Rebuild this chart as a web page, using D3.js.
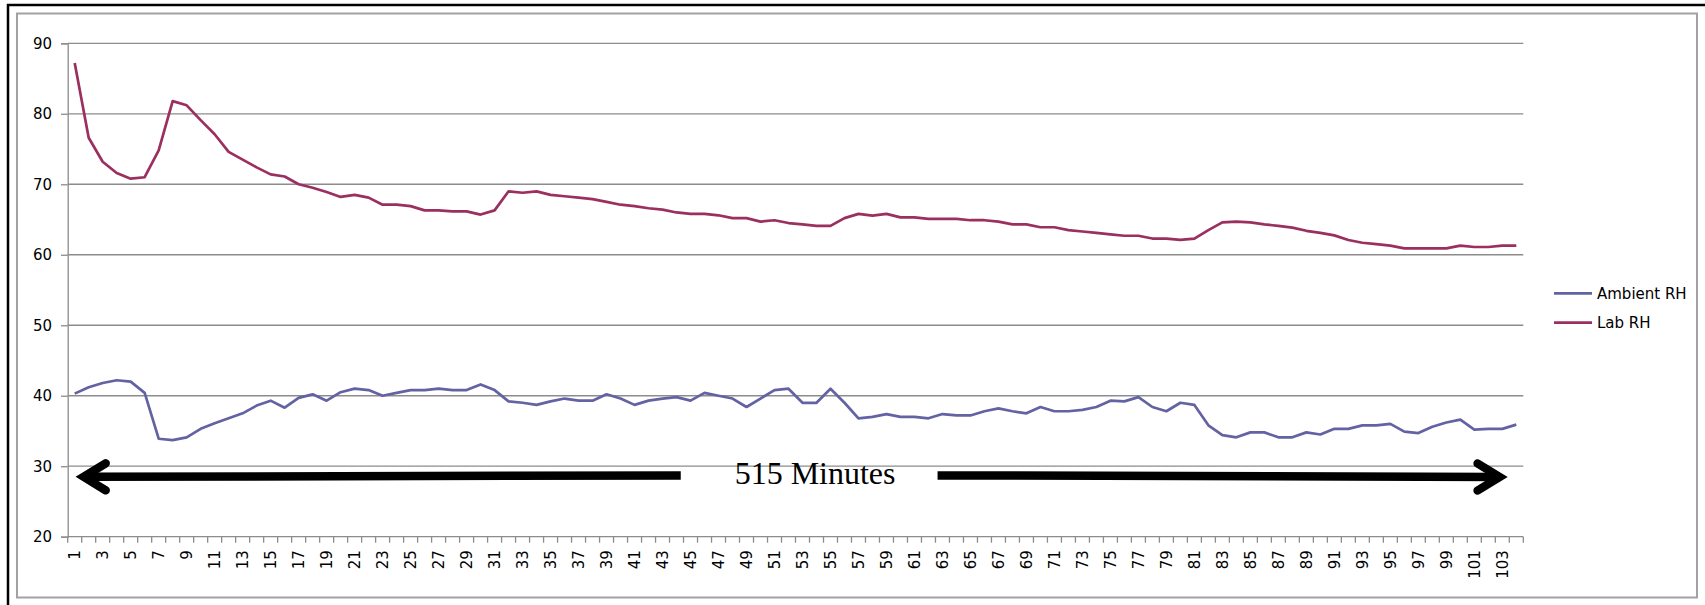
<!DOCTYPE html>
<html>
<head>
<meta charset="utf-8">
<script src="https://cdn.jsdelivr.net/npm/d3@7"></script>
<style>
  body { margin: 0; background: #fff; }
  text { font-family: "DejaVu Sans", sans-serif; }
</style>
</head>
<body>
<div id="chart"></div>
<script>
// readings, one per sample (104 samples over 515 minutes)
const samples = d3.range(1, 105).map(String)
const ambientRH = [
  40.3, 41.2, 41.8, 42.2, 42.0, 40.4, 33.9, 33.7, 34.1, 35.3,
  36.1, 36.8, 37.5, 38.6, 39.3, 38.3, 39.7, 40.2, 39.3, 40.5,
  41.0, 40.8, 40.0, 40.4, 40.8, 40.8, 41.0, 40.8, 40.8, 41.6,
  40.8, 39.2, 39.0, 38.7, 39.2, 39.6, 39.3, 39.3, 40.2, 39.6,
  38.7, 39.3, 39.6, 39.8, 39.3, 40.4, 40.0, 39.6, 38.4, 39.6,
  40.8, 41.0, 39.0, 39.0, 41.0, 39.0, 36.8, 37.0, 37.4, 37.0,
  37.0, 36.8, 37.4, 37.2, 37.2, 37.8, 38.2, 37.8, 37.5, 38.4,
  37.8, 37.8, 38.0, 38.4, 39.3, 39.2, 39.8, 38.4, 37.8, 39.0,
  38.7, 35.8, 34.4, 34.1, 34.8, 34.8, 34.1, 34.1, 34.8, 34.5,
  35.3, 35.3, 35.8, 35.8, 36.0, 34.9, 34.7, 35.6, 36.2, 36.6,
  35.2, 35.3, 35.3, 35.9
]
const labRH = [
  87.2, 76.6, 73.2, 71.6, 70.8, 71.0, 74.8, 81.8, 81.2, 79.1,
  77.1, 74.6, 73.5, 72.4, 71.4, 71.1, 70.0, 69.5, 68.9, 68.2,
  68.5, 68.1, 67.1, 67.1, 66.9, 66.3, 66.3, 66.15, 66.15, 65.7,
  66.3, 69.0, 68.8, 69.0, 68.5, 68.3, 68.1, 67.9, 67.5, 67.1,
  66.9, 66.6, 66.4, 66.0, 65.8, 65.8, 65.6, 65.2, 65.2, 64.7,
  64.9, 64.5, 64.3, 64.1, 64.1, 65.2, 65.8, 65.55, 65.8, 65.3,
  65.3, 65.1, 65.1, 65.1, 64.9, 64.9, 64.7, 64.3, 64.3, 63.9,
  63.9, 63.5, 63.3, 63.1, 62.9, 62.7, 62.7, 62.3, 62.3, 62.1,
  62.3, 63.5, 64.6, 64.7, 64.6, 64.3, 64.1, 63.85, 63.4, 63.1,
  62.75, 62.1, 61.7, 61.5, 61.3, 60.9, 60.9, 60.9, 60.9, 61.3,
  61.1, 61.1, 61.3, 61.3
]
const yTicks = [20, 30, 40, 50, 60, 70, 80, 90]
const seriesNames = ["Ambient RH", "Lab RH"]
const colors = ["#6363a3", "#9b2f60"]
const note = "515 Minutes"

const W = 1705, H = 605
const margin = { top: 43.3, left: 67.7, right: W - 1523.3, bottom: H - 536.7 }
const plotW = W - margin.left - margin.right
const plotH = H - margin.top - margin.bottom

const svg = d3.select("#chart").append("svg").attr("width", W).attr("height", H)

// frames
svg.append("rect").attr("x", 8).attr("y", 5).attr("width", W).attr("height", H)
  .attr("fill", "none").attr("stroke", "#000").attr("stroke-width", 2.5)
svg.append("rect").attr("x", 17).attr("y", 13.5).attr("width", 1680).attr("height", 584)
  .attr("fill", "none").attr("stroke", "#a2a2a2").attr("stroke-width", 2)

const g = svg.append("g").attr("transform", `translate(${margin.left},${margin.top})`)

const x = d3.scaleBand().domain(samples).range([0, plotW])
const y = d3.scaleLinear().domain([20, 90]).range([plotH, 0])
const cx = d => x(d) + x.bandwidth() / 2
// continuous position in sample units, used for the arrow annotation
const xs = d3.scaleLinear().domain([0.5, samples.length + 0.5]).range([0, plotW])

// gridlines
g.append("g").selectAll("line").data(yTicks.slice(1)).join("line")
  .attr("x1", 0).attr("x2", plotW)
  .attr("y1", d => y(d)).attr("y2", d => y(d))
  .attr("stroke", "#8c8c8c").attr("stroke-width", 1.3)

// y axis
const yAxis = d3.axisLeft(y).tickValues(yTicks).tickSize(6.7).tickPadding(9)
const yG = g.append("g").call(yAxis)
yG.selectAll("line, path").attr("stroke", "#8c8c8c").attr("stroke-width", 1.3)
yG.selectAll("text").attr("font-size", 15).attr("fill", "#000")

// x axis: ticks between categories, labels on odd samples
const xG = g.append("g").attr("transform", `translate(0,${plotH})`)
xG.append("line").attr("x1", 0).attr("x2", plotW)
  .attr("stroke", "#8c8c8c").attr("stroke-width", 1.3)
xG.selectAll(".tk").data(samples.concat(["end"])).join("line").attr("class", "tk")
  .attr("x1", (d, i) => i * x.bandwidth()).attr("x2", (d, i) => i * x.bandwidth())
  .attr("y1", 0).attr("y2", 6)
  .attr("stroke", "#8c8c8c").attr("stroke-width", 1.3)
xG.selectAll(".lb").data(samples.filter((d, i) => i % 2 === 0)).join("text").attr("class", "lb")
  .attr("transform", d => `translate(${cx(d)},13.5) rotate(-90)`)
  .attr("text-anchor", "end").attr("dy", "0.36em")
  .attr("font-size", 15).attr("fill", "#000")
  .text(d => d)

// series
const line = d3.line().x((v, i) => cx(samples[i])).y(v => y(v))
;[ambientRH, labRH].forEach((s, k) => {
  g.append("path").datum(s).attr("d", line)
    .attr("fill", "none").attr("stroke", colors[k]).attr("stroke-width", 2.7)
    .attr("stroke-linejoin", "round")
})

// arrow annotation (double-headed, broken by the label)
const ay = 28.5
const tipL = [xs(1.0), y(ay)], tipR = [xs(103.45), y(ay - 0.03)]
const head = (tip, dir) => d3.line()([
  [tip[0] + dir * 31, tip[1] - 13.5],
  [tip[0] + dir * 9, tip[1]],
  [tip[0] + dir * 31, tip[1] + 13.5]
])
g.append("line").attr("x1", tipL[0] + 9).attr("x2", xs(44.3))
  .attr("y1", tipL[1]).attr("y2", y(ay + 0.2))
  .attr("stroke", "#000").attr("stroke-width", 8.5)
g.append("line").attr("x1", xs(62.65)).attr("x2", tipR[0] - 9)
  .attr("y1", y(ay + 0.2)).attr("y2", tipR[1])
  .attr("stroke", "#000").attr("stroke-width", 8.5)
;[[tipL, 1], [tipR, -1]].forEach(([t, dir]) => {
  g.append("path").attr("d", head(t, dir))
    .attr("fill", "none").attr("stroke", "#000").attr("stroke-width", 8.5)
    .attr("stroke-linecap", "round").attr("stroke-linejoin", "miter")
    .attr("stroke-miterlimit", 10)
})
g.append("text").attr("x", xs(53.9)).attr("y", y(ay) + 7)
  .attr("text-anchor", "middle")
  .style("font-family", "'Liberation Serif', 'Times New Roman', serif")
  .attr("font-size", 32).attr("fill", "#000").text(note)

// legend
const lg = svg.append("g").attr("transform", "translate(1554,293.3)")
seriesNames.forEach((n, k) => {
  const r = lg.append("g").attr("transform", `translate(0,${k * 29.4})`)
  r.append("line").attr("x1", 0).attr("x2", 38)
    .attr("stroke", colors[k]).attr("stroke-width", 2.7)
  r.append("text").attr("x", 43).attr("dy", "0.36em")
    .attr("font-size", 15).attr("fill", "#000").text(n)
})
</script>
</body>
</html>
